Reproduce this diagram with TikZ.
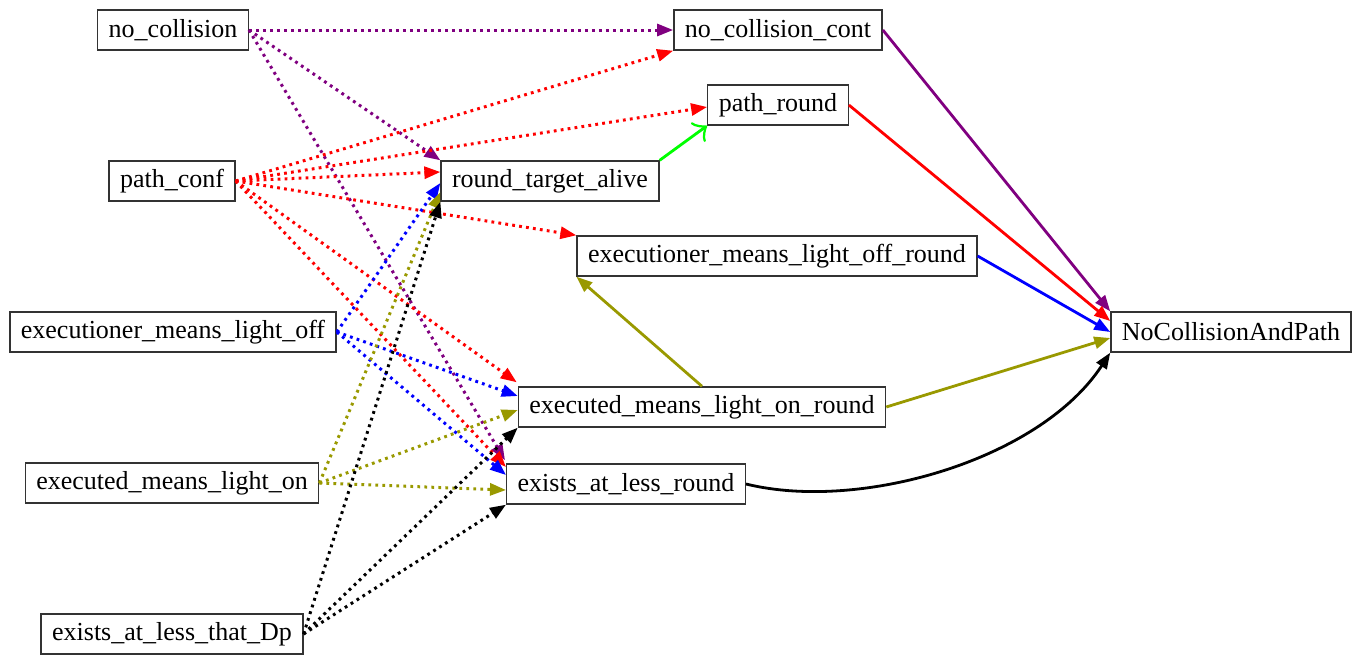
\documentclass[tikz,border=0pt]{standalone}
\usepackage{fontspec}
\setmainfont{Liberation Serif}
\usetikzlibrary{arrows.meta,calc}
\definecolor{gvpurple}{RGB}{128,0,128}
\definecolor{gvolive}{RGB}{153,153,0}
\definecolor{gvgreen}{RGB}{0,255,0}
\begin{document}
\begin{tikzpicture}[x=0.5pt,y=-0.5pt,
  box/.style={draw=black!80,line width=0.7pt,fill=white,inner xsep=5.5pt,inner ysep=0pt,
    minimum height=20pt,font=\fontsize{13}{15}\selectfont},
  dotedge/.style={line width=1.5pt,dash pattern=on 1.4pt off 2.1pt,-{Triangle[length=8pt,width=6pt]}},
  soledge/.style={line width=1.4pt,-{Triangle[length=8pt,width=6pt]}}]
\useasboundingbox (0,0) rectangle (1362,655);
% nodes
\node[box] (nc) at (173,30) {no\_collision};
\node[box] (ncc) at (778,30) {no\_collision\_cont};
\node[box] (pr) at (778,105) {path\_round};
\node[box] (pc) at (172,181) {path\_conf};
\node[box] (rta) at (550,181) {round\_target\_alive};
\node[box] (emlor) at (777,256) {executioner\_means\_light\_off\_round};
\node[box] (emlo) at (173,332) {executioner\_means\_light\_off};
\node[box] (ncap) at (1231,332) {NoCollisionAndPath};
\node[box] (emlonr) at (702,407) {executed\_means\_light\_on\_round};
\node[box] (emlon) at (172,483) {executed\_means\_light\_on};
\node[box] (ealr) at (626,484) {exists\_at\_less\_round};
\node[box] (eald) at (172,634) {exists\_at\_less\_that\_Dp};
% purple dotted
\draw[dotedge,gvpurple] (nc.east) -- (ncc.west);
\draw[dotedge,gvpurple] (nc.east) -- (rta.north west);
\draw[dotedge,gvpurple] (nc.east) -- ($(ealr.north west)+(-1,-3)$);
% red dotted
\draw[dotedge,red] (pc.east) -- (ncc.south west);
\draw[dotedge,red] (pc.east) -- ($(pr.west)+(0,2)$);
\draw[dotedge,red] (pc.east) -- ($(rta.west)+(0,-9)$);
\draw[dotedge,red] (pc.east) -- (emlor.north west);
\draw[dotedge,red] (pc.east) -- ($(emlonr.north west)+(-1,-4)$);
\draw[dotedge,red] (pc.east) -- ($(ealr.west)+(0,-17)$);
% blue dotted
\draw[dotedge,blue] (emlo.east) -- ($(rta.west)+(0,2)$);
\draw[dotedge,blue] (emlo.east) -- ($(emlonr.west)+(0,-11)$);
\draw[dotedge,blue] (emlo.east) -- ($(ealr.west)+(0,-9)$);
% olive dotted
\draw[dotedge,gvolive] (emlon.east) -- ($(rta.west)+(0,11)$);
\draw[dotedge,gvolive] (emlon.east) -- ($(emlonr.west)+(0,3)$);
\draw[dotedge,gvolive] (emlon.east) -- ($(ealr.west)+(0,6)$);
% black dotted
\draw[dotedge,black] (eald.east) -- (rta.south west);
\draw[dotedge,black] (eald.east) -- (emlonr.south west);
\draw[dotedge,black] (eald.east) -- (ealr.south west);
% solid edges
\draw[line width=1.4pt,gvgreen,-{Classical TikZ Rightarrow[length=6pt,width=12pt]}] (rta.north east) -- (pr.south west);
\draw[soledge,gvpurple] (ncc.east) -- (ncap.north west);
\draw[soledge,red] (pr.east) -- ($(ncap.west)+(0,-11)$);
\draw[soledge,blue] (emlor.east) -- (ncap.west);
\draw[soledge,gvolive] (emlonr.east) -- ($(ncap.west)+(0,6)$);
\draw[soledge,gvolive] (emlonr.north) -- (emlor.south west);
\draw[soledge,black] (ealr.east) .. controls (860,512) and (1040,460) .. (ncap.south west);
\end{tikzpicture}
\end{document}
